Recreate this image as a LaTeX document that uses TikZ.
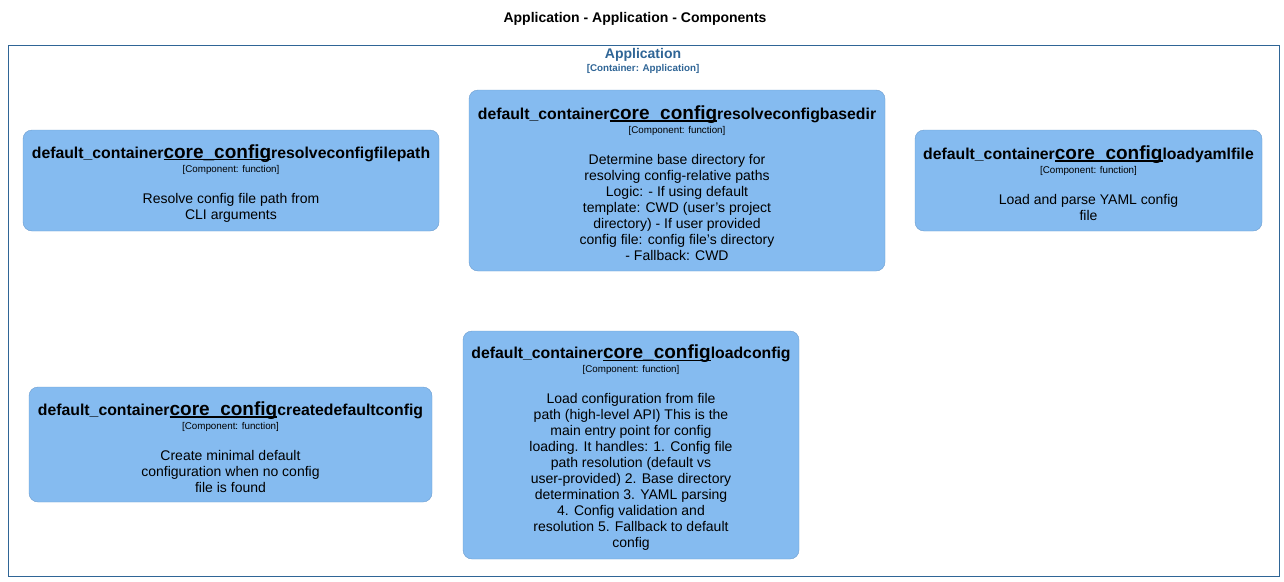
\documentclass[tikz,border=0pt]{standalone}
\usepackage{fontspec}
\setmainfont{Liberation Sans}
\usetikzlibrary{positioning}
\definecolor{compfill}{HTML}{85BBF0}
\definecolor{compline}{HTML}{6C9CCE}
\definecolor{bndline}{HTML}{2F6596}
\newcommand{\cfgul}[1]{\setbox0\hbox{#1}\rlap{\rule[-2.2pt]{\wd0}{1.2pt}}\box0}
\newcommand{\comphead}[1]{{\fontsize{15.8}{16}\selectfont\bfseries\rule{0pt}{19pt}default\_container\cfgul{\fontsize{19}{16}\selectfont core\_config}#1}}
\newcommand{\comptag}{{\fontsize{9.8}{16}\selectfont [Component: function]}}

\begin{document}
\begin{tikzpicture}[x=1pt,y=-1pt,
    comp/.style={draw=compline,fill=compfill,rounded corners=9pt,align=center,
        font=\fontsize{14}{16}\selectfont,inner sep=0pt},
    bnd/.style={draw=bndline,line width=0.8pt,anchor=north west,inner sep=0pt}]
        \useasboundingbox (0,0) rectangle (1284,581);

        \node[font=\fontsize{14}{16}\selectfont\bfseries] (title) at (635,19)
            {Application - Application - Components};

        \node[bnd,minimum width=1271pt,minimum height=531pt] (app) at (8,45) {};
        \node[text=bndline,font=\fontsize{14}{16}\selectfont\bfseries] (applbl) at (643,55) {Application};
        \node[text=bndline,font=\fontsize{9.8}{11}\selectfont\bfseries] (apptag) at (643,69) {[Container: Application]};

        \node[comp,minimum width=416pt,minimum height=101pt] (filepath) at (231,180.5)
            {\comphead{resolveconfigfilepath}\\[-2pt] \comptag\\[15pt]
             Resolve config file path from\\ CLI arguments};
        \node[comp,minimum width=416pt,minimum height=181pt] (basedir) at (677,180.5)
            {\comphead{resolveconfigbasedir}\\[-2pt] \comptag\\[15pt]
             Determine base directory for\\ resolving config-relative paths\\
             Logic: - If using default\\ template: CWD (user's project\\
             directory) - If user provided\\ config file: config file's directory\\
             - Fallback: CWD};
        \node[comp,minimum width=347pt,minimum height=101pt] (yamlfile) at (1088.5,180.5)
            {\comphead{loadyamlfile}\\[-2pt] \comptag\\[15pt]
             Load and parse YAML config\\ file};
        \node[comp,minimum width=403pt,minimum height=115pt] (defconfig) at (230.5,444.5)
            {\comphead{createdefaultconfig}\\[-2pt] \comptag\\[15pt]
             Create minimal default\\ configuration when no config\\ file is found};
        \node[comp,minimum width=336pt,minimum height=228pt] (loadconfig) at (631,445)
            {\comphead{loadconfig}\\[-2pt] \comptag\\[15pt]
             Load configuration from file\\ path (high-level API) This is the\\
             main entry point for config\\ loading. It handles: 1. Config file\\
             path resolution (default vs\\ user-provided) 2. Base directory\\
             determination 3. YAML parsing\\ 4. Config validation and\\
             resolution 5. Fallback to default\\ config};
    \end{tikzpicture}
\end{document}
